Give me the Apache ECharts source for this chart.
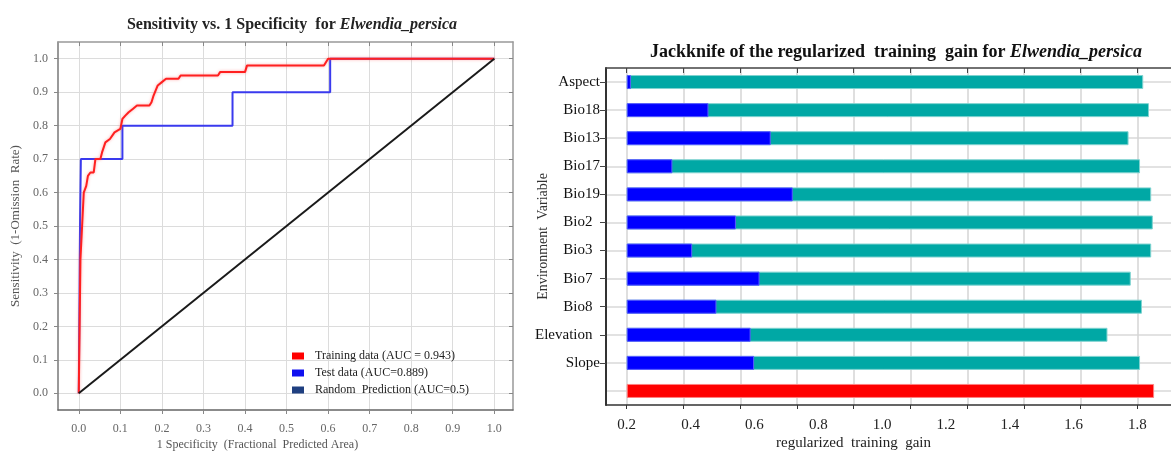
<!DOCTYPE html>
<html>
<head>
<meta charset="utf-8">
<title>ROC and jackknife for Elwendia persica</title>
<script src="https://cdn.jsdelivr.net/npm/echarts@6/dist/echarts.min.js"></script>
<style>
  html, body { margin: 0; padding: 0; background: #fff; }
  #chart { width: 1171px; height: 456px; }
</style>
</head>
<body>
<div id="chart"></div>
<script>
// ROC panel data (1 - specificity, sensitivity)
const rocTicks = [0, 0.1, 0.2, 0.3, 0.4, 0.5, 0.6, 0.7, 0.8, 0.9, 1.0];
const trainRoc = [
  [0, 0], [0.002, 0.2], [0.004, 0.4], [0.008, 0.5], [0.012, 0.6], [0.018, 0.62],
  [0.022, 0.65], [0.028, 0.66], [0.036, 0.66], [0.04, 0.7], [0.052, 0.7],
  [0.056, 0.72], [0.064, 0.75], [0.075, 0.76], [0.086, 0.78], [0.1, 0.79],
  [0.105, 0.82], [0.112, 0.83], [0.12, 0.84], [0.13, 0.85], [0.14, 0.86],
  [0.17, 0.86], [0.175, 0.87], [0.18, 0.89], [0.19, 0.92], [0.2, 0.93],
  [0.21, 0.94], [0.24, 0.94], [0.245, 0.95], [0.335, 0.95], [0.34, 0.96],
  [0.4, 0.96], [0.405, 0.98], [0.59, 0.98], [0.6, 1.0], [1.0, 1.0]
];
const testRoc = [
  [0, 0], [0.003, 0.5], [0.005, 0.7], [0.105, 0.7], [0.105, 0.8], [0.37, 0.8],
  [0.37, 0.9], [0.605, 0.9], [0.605, 1.0], [1.0, 1.0]
];
const randomRoc = [[0, 0], [1, 1]];

// Jackknife panel data
const envVars = ['Aspect', 'Bio18', 'Bio13', 'Bio17', 'Bio19', 'Bio2', 'Bio3', 'Bio7', 'Bio8', 'Elevation', 'Slope', ''];
const gainWithout = [1.818, 1.836, 1.772, 1.808, 1.843, 1.848, 1.843, 1.779, 1.814, 1.706, 1.808, null];
const gainOnly = [0.213, 0.456, 0.651, 0.343, 0.720, 0.542, 0.405, 0.616, 0.481, 0.588, 0.599, null];
const gainAll = [null, null, null, null, null, null, null, null, null, null, null, 1.852];
const gainLabels = [0.2, 0.4, 0.6, 0.8, 1.0, 1.2, 1.4, 1.6, 1.8];
const gainGridLines = [0.2, 0.378, 0.556, 0.733, 0.911, 1.089, 1.267, 1.444, 1.622, 1.8];

const serif = 'Liberation Serif';
const padded = ['Bio2', 'Bio3', 'Bio7', 'Bio8', 'Elevation'];

var chart = echarts.init(document.getElementById('chart'));

var option = {
  animation: false,
  backgroundColor: '#fff',
  title: [{
    text: 'Sensitivity vs. 1 Specificity  for {i|Elwendia_persica}',
    left: 287, top: 12, textAlign: 'center',
    textStyle: {
      fontFamily: serif, fontWeight: 'bold', fontSize: 16, color: '#222',
      rich: { i: { fontFamily: serif, fontWeight: 'bold', fontStyle: 'italic', fontSize: 16, color: '#222' } }
    }
  }, {
    text: 'Jackknife of the regularized  training  gain for {i|Elwendia_persica}',
    left: 891, top: 38, textAlign: 'center',
    textStyle: {
      fontFamily: serif, fontWeight: 'bold', fontSize: 18, color: '#111',
      rich: { i: { fontFamily: serif, fontWeight: 'bold', fontStyle: 'italic', fontSize: 18, color: '#111' } }
    }
  }],
  legend: {
    orient: 'vertical', left: 292, top: 350, padding: 0,
    icon: 'rect', itemWidth: 12, itemHeight: 7, itemGap: 5,
    textStyle: { fontFamily: serif, fontSize: 12, color: '#222', padding: [0, 0, 0, 6] },
    data: [
      { name: 'Training data (AUC = 0.943)', itemStyle: { color: '#ff0000' } },
      { name: 'Test data (AUC=0.889)', itemStyle: { color: '#1010f0' } },
      { name: 'Random  Prediction (AUC=0.5)', itemStyle: { color: '#1f3f80' } }
    ]
  },
  grid: [
    { left: 58, top: 42, width: 455, height: 376 },
    { left: 606, top: 68, width: 565, height: 343 }
  ],
  xAxis: [{
    type: 'value', gridIndex: 0, min: -0.05, max: 1.045,
    axisLine: { show: true, onZero: false, lineStyle: { color: '#666', width: 1.5 } },
    axisTick: { show: true, customValues: rocTicks, length: 4, lineStyle: { color: '#888' } },
    axisLabel: { customValues: rocTicks, formatter: v => v.toFixed(1), fontFamily: serif, fontSize: 12, color: '#666', margin: 13 },
    splitLine: { show: true, lineStyle: { color: '#dcdcdc' } },
    name: '1 Specificity  (Fractional  Predicted Area)', nameLocation: 'middle', nameGap: 29, nameMoveOverlap: false,
    nameTextStyle: { fontFamily: serif, fontSize: 12, color: '#555', padding: [0, 56, 0, 0] }
  }, {
    type: 'value', gridIndex: 0, position: 'top', min: -0.05, max: 1.045,
    axisLine: { show: true, onZero: false, lineStyle: { color: '#999', width: 1.5 } },
    axisTick: { show: true, inside: true, customValues: rocTicks, length: 4, lineStyle: { color: '#888' } },
    axisLabel: { show: false }, splitLine: { show: false }
  }, {
    type: 'value', gridIndex: 1, min: 0.135, max: 1.905, startValue: 0.2,
    axisLine: { show: true, onZero: false, lineStyle: { color: '#333', width: 1.5 } },
    axisTick: { show: true, customValues: gainGridLines, length: 4, lineStyle: { color: '#333' } },
    axisLabel: { customValues: gainLabels, formatter: v => v.toFixed(1), fontFamily: serif, fontSize: 15, color: '#222', margin: 13 },
    splitLine: { show: true, lineStyle: { color: '#d4d4d4', width: 1.5 } },
    name: 'regularized  training  gain', nameLocation: 'middle', nameGap: 31, nameMoveOverlap: false,
    nameTextStyle: { fontFamily: serif, fontSize: 15, color: '#222', padding: [0, 70, 0, 0] }
  }, {
    type: 'value', gridIndex: 1, position: 'top', min: 0.135, max: 1.905,
    axisLine: { show: true, onZero: false, lineStyle: { color: '#444', width: 1.5 } },
    axisTick: { show: true, inside: true, customValues: gainGridLines, length: 5, lineStyle: { color: '#444' } },
    axisLabel: { show: false }, splitLine: { show: false }
  }],
  yAxis: [{
    type: 'value', gridIndex: 0, min: -0.05, max: 1.05,
    axisLine: { show: true, onZero: false, lineStyle: { color: '#777', width: 1.5 } },
    axisTick: { show: true, customValues: rocTicks, length: 4, lineStyle: { color: '#888' } },
    axisLabel: { customValues: rocTicks, formatter: v => v.toFixed(1), fontFamily: serif, fontSize: 12, color: '#666', margin: 10 },
    splitLine: { show: true, lineStyle: { color: '#dcdcdc' } },
    name: 'Sensitivity  (1-Omission  Rate)', nameLocation: 'middle', nameGap: 36, nameMoveOverlap: false,
    nameTextStyle: { fontFamily: serif, fontSize: 13, color: '#555' }
  }, {
    type: 'value', gridIndex: 0, position: 'right', min: -0.05, max: 1.05,
    axisLine: { show: true, onZero: false, lineStyle: { color: '#999', width: 1.5 } },
    axisTick: { show: true, inside: true, customValues: rocTicks, length: 4, lineStyle: { color: '#888' } },
    axisLabel: { show: false }, splitLine: { show: false }
  }, {
    type: 'category', gridIndex: 1, inverse: true, data: envVars,
    axisLine: { show: true, onZero: false, lineStyle: { color: '#333', width: 2 } },
    axisTick: { show: true, alignWithLabel: true, length: 6, interval: (i, v) => v !== '', lineStyle: { color: '#444' } },
    axisLabel: {
      fontFamily: serif, fontSize: 15, color: '#111', margin: 6,
      formatter: v => padded.indexOf(v) >= 0 ? v + '  ' : v
    },
    splitLine: { show: true, alignWithLabel: true, lineStyle: { color: '#d8d8d8', width: 1.5 } },
    name: 'Environment  Variable', nameLocation: 'middle', nameGap: 56, nameMoveOverlap: false,
    nameTextStyle: { fontFamily: serif, fontSize: 14, color: '#333' }
  }],
  series: [{
    name: 'Test data (AUC=0.889)', type: 'line', xAxisIndex: 0, yAxisIndex: 0,
    data: testRoc, showSymbol: false, color: '#1010f0',
    lineStyle: { color: '#3a3aee', width: 2 }
  }, {
    name: 'Training data (AUC = 0.943)', type: 'line', xAxisIndex: 0, yAxisIndex: 0,
    data: trainRoc, showSymbol: false, color: '#ff0000',
    lineStyle: { color: '#ff2020', width: 2, shadowBlur: 3, shadowColor: 'rgba(255,80,80,0.5)' }
  }, {
    name: 'Random  Prediction (AUC=0.5)', type: 'line', xAxisIndex: 0, yAxisIndex: 0,
    data: randomRoc, showSymbol: false, color: '#1f3f80',
    lineStyle: { color: '#1a1a1a', width: 2 }
  }, {
    name: 'Without variable', type: 'bar', xAxisIndex: 2, yAxisIndex: 2,
    data: gainWithout, barWidth: 14, barGap: '-100%',
    itemStyle: { color: '#00a8a5', borderColor: '#7fd3d0', borderWidth: 1 }
  }, {
    name: 'With only variable', type: 'bar', xAxisIndex: 2, yAxisIndex: 2,
    data: gainOnly, barWidth: 14, barGap: '-100%',
    itemStyle: { color: '#0000ff', borderColor: '#5a5aff', borderWidth: 1 }
  }, {
    name: 'With all variables', type: 'bar', xAxisIndex: 2, yAxisIndex: 2,
    data: gainAll, barWidth: 14, barGap: '-100%',
    itemStyle: { color: '#ff0000', borderColor: '#ff8080', borderWidth: 1 }
  }]
};

chart.setOption(option);
</script>
</body>
</html>
